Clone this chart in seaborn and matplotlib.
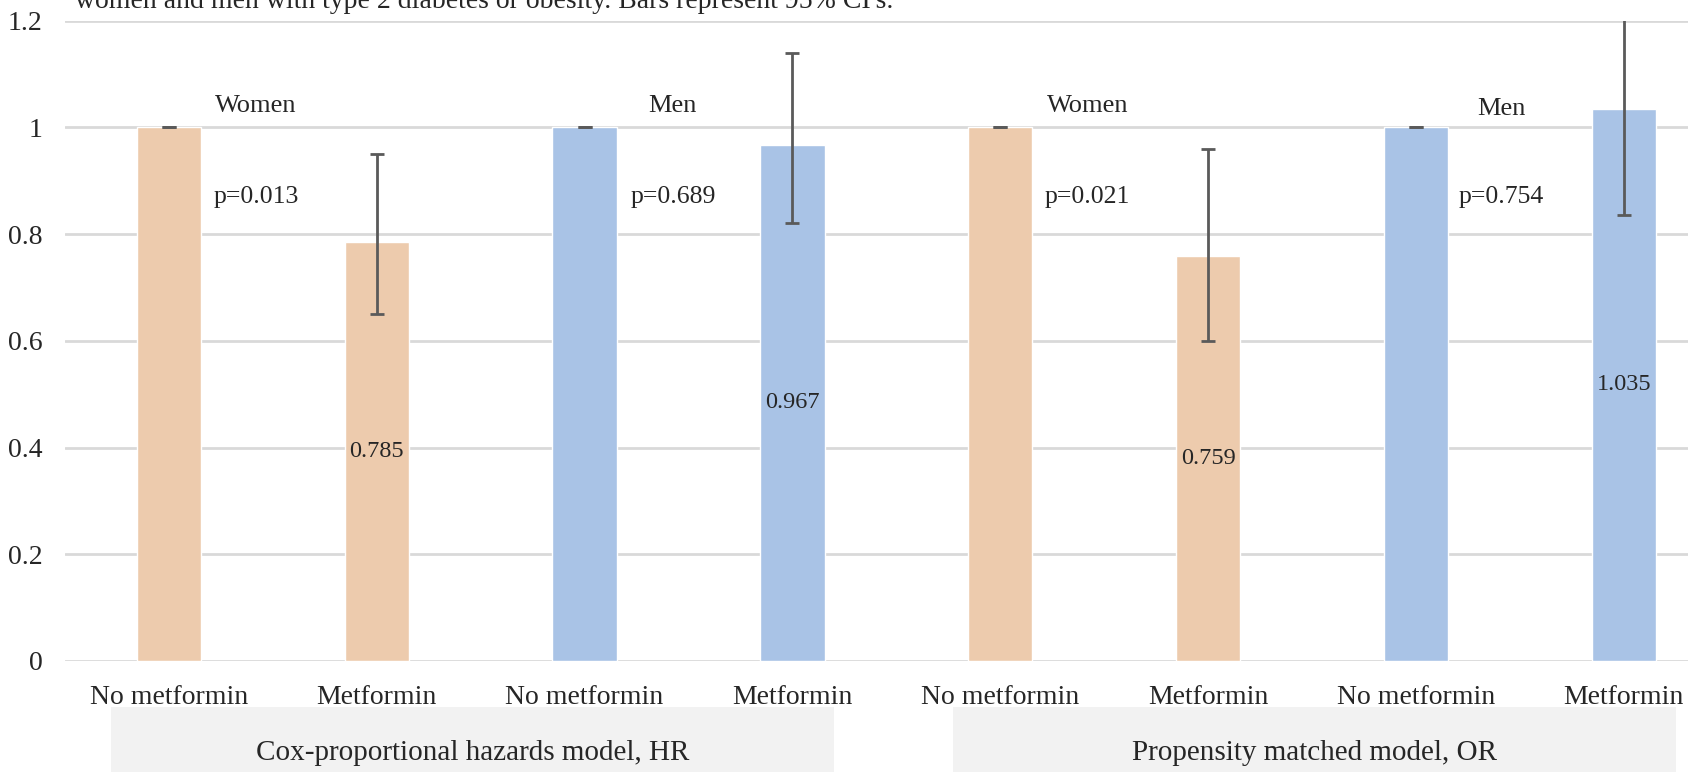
import pandas as pd
import seaborn as sns
import matplotlib.pyplot as plt
from matplotlib.patches import Rectangle

# Data
labels = ['No metformin', 'Metformin', 'No metformin', 'Metformin',
          'No metformin', 'Metformin', 'No metformin', 'Metformin']
sex = ['Women', 'Women', 'Men', 'Men', 'Women', 'Women', 'Men', 'Men']
values = [1.0, 0.785, 1.0, 0.967, 1.0, 0.759, 1.0, 1.035]
ci_low = [1.0, 0.65, 1.0, 0.82, 1.0, 0.60, 1.0, 0.835]
ci_high = [1.0, 0.95, 1.0, 1.14, 1.0, 0.96, 1.0, 1.28]
value_labels = ['', '0.785', '', '0.967', '', '0.759', '', '1.035']
p_values = ['p=0.013', 'p=0.689', 'p=0.021', 'p=0.754']
models = ['Cox-proportional hazards model, HR', 'Propensity matched model, OR']
caption = "women and men with type 2 diabetes or obesity. Bars represent 95% CI's."

df = pd.DataFrame({'slot': [str(i) for i in range(len(values))],
                   'value': values, 'sex': sex})

sns.set_style('white')
plt.rcParams['font.family'] = ['Liberation Serif', 'DejaVu Serif']

fig = plt.figure(figsize=(16.88, 7.72), dpi=100)
ax = fig.add_axes([0.0385, 0.1438, 0.985, 0.8296])

sns.barplot(data=df, x='slot', y='value', hue='sex', dodge=False, width=0.31,
            palette={'Women': '#EDCBAD', 'Men': '#A9C3E6'}, saturation=1,
            legend=False, ax=ax, zorder=2)

x = list(range(len(values)))
yerr = [[v - lo for v, lo in zip(values, ci_low)],
        [hi - v for v, hi in zip(values, ci_high)]]
ax.errorbar(x, values, yerr=yerr, fmt='none', ecolor='#5a5a5a',
            elinewidth=2, capsize=5, capthick=2, zorder=3)

for i, t in enumerate(value_labels):
    if t:
        ax.text(i, values[i] / 2, t, ha='center', va='center', fontsize=17.5)

offsets = [0.42, 0.425, 0.42, 0.41]
for k in range(4):
    xc = 2 * k + offsets[k]
    ax.text(xc, 1.04 if k < 3 else 1.035, sex[2 * k], ha='center',
            va='center', fontsize=19)
    ax.text(xc, 0.869, p_values[k], ha='center', va='center', fontsize=18.5)

ax.set_ylim(0, 1.2)
ax.set_xlim(-0.5, 7.5)
ax.set_yticks([0, 0.2, 0.4, 0.6, 0.8, 1.0, 1.2])
ax.set_yticklabels(['0', '0.2', '0.4', '0.6', '0.8', '1', '1.2'], fontsize=20)
ax.set_xticks(x)
ax.set_xticklabels(labels, fontsize=20)
ax.tick_params(axis='x', length=0, pad=17)
ax.tick_params(axis='y', length=0, pad=16)
ax.set_xlabel('')
ax.set_ylabel('')
ax.grid(True, axis='y', color='#d9d9d9', linewidth=2)
ax.set_axisbelow(True)
sns.despine(ax=ax, left=True, bottom=True)

# Group boxes under the tick labels
for j, m in enumerate(models):
    x0 = 111 / 1688 if j == 0 else 953 / 1688
    w = (834 - 111) / 1688
    fig.add_artist(Rectangle((x0, 0), w, 65 / 772, transform=fig.transFigure,
                             facecolor='#f2f2f2', edgecolor='none'))
    fig.text(x0 + w / 2, 19 / 772, m, ha='center', va='center', fontsize=21)

fig.text(0.0445, 0.9896, caption, ha='left', va='baseline', fontsize=20)

fig.savefig('out.png', dpi=100)
